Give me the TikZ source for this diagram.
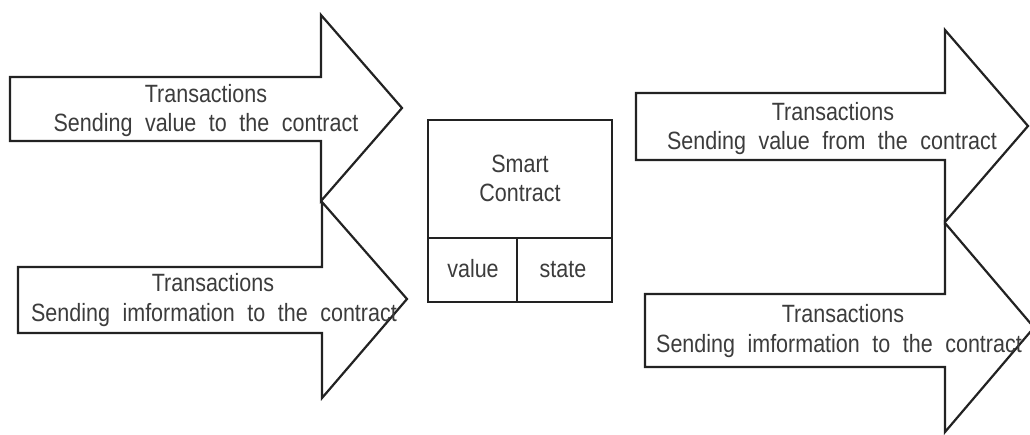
\documentclass[tikz,border=0pt]{standalone}
\usepackage{fontspec}
\setmainfont{Liberation Sans}[WordSpace=2.1, FakeStretch=0.86]
\definecolor{linecol}{HTML}{222222}
\definecolor{txtcol}{HTML}{3c3c3c}
\tikzset{
  bigarrow/.style={draw=linecol, line width=2.2pt, fill=white, line join=miter},
  cellbox/.style={draw=linecol, line width=2.2pt, fill=white, inner sep=0pt},
  lbl/.style={font=\fontsize{25}{30}\selectfont, text=txtcol, inner sep=0pt, anchor=base},
}
\begin{document}
\begin{tikzpicture}[x=1pt, y=-1pt]
\useasboundingbox (0,0) rectangle (1030,434);

% incoming transactions (left)
\draw[bigarrow] (10,77) -- (321,77) -- (321,15) -- (402,108) -- (321,201)
  -- (321,141) -- (10,141) -- cycle;
\draw[bigarrow] (18,267) -- (322,267) -- (322,202) -- (407,299) -- (322,398)
  -- (322,333) -- (18,333) -- cycle;

% outgoing transactions (right)
\draw[bigarrow] (636,93) -- (945,93) -- (945,30) -- (1028,126) -- (945,222)
  -- (945,160) -- (636,160) -- cycle;
\draw[bigarrow] (645,294) -- (945,294) -- (945,223) -- (1034,327.5) -- (945,432)
  -- (945,367) -- (645,367) -- cycle;

% the contract with its value and state
\node[cellbox, minimum width=184pt, minimum height=118pt] (sc) at (520,179) {};
\node[cellbox, minimum width=89pt, minimum height=64pt] (val) at (472.5,270) {};
\node[cellbox, minimum width=95pt, minimum height=64pt] (st) at (564.5,270) {};

\node[lbl] (sc1) at (520,172) {Smart};
\node[lbl] (sc2) at (520,201) {Contract};
\node[lbl] (valt) at (473,277) {value};
\node[lbl] (stt) at (563,277) {state};

% arrow labels
\node[lbl] (a1t) at (206,102) {Transactions};
\node[lbl] (a1s) at (206,131) {Sending value to the contract};
\node[lbl] (a2t) at (213,291) {Transactions};
\node[lbl] (a2s) at (214,321) {Sending imformation to the contract};
\node[lbl] (a3t) at (833,120) {Transactions};
\node[lbl] (a3s) at (832,149) {Sending value from the contract};
\node[lbl] (a4t) at (843,322) {Transactions};
\node[lbl] (a4s) at (839,352) {Sending imformation to the contract};
\end{tikzpicture}
\end{document}
